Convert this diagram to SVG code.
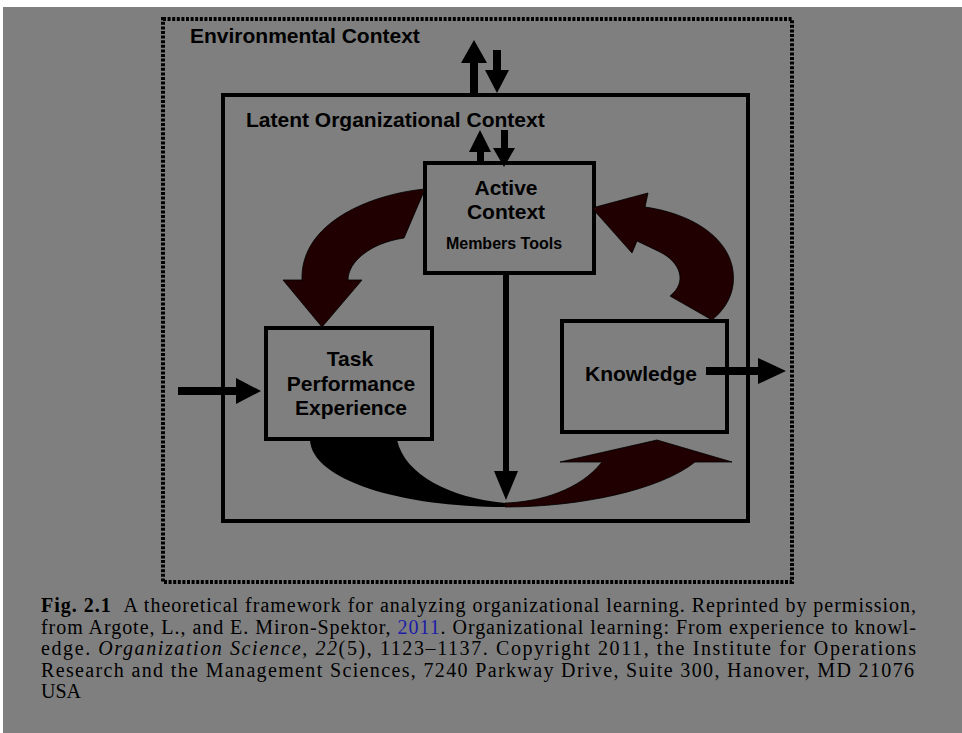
<svg xmlns="http://www.w3.org/2000/svg" width="962" height="733" viewBox="0 0 962 733">
<style>
.lbl{font-family:"Liberation Sans",Arial,sans-serif;font-weight:bold;font-size:21px;fill:#000}
.sm{font-size:16px}
.box{fill:none;stroke:#000;stroke-width:4}
.env{fill:none;stroke:#000;stroke-width:4;stroke-dasharray:3 1.6}
.blk{fill:#000}
.mar{fill:#200000;stroke:#000;stroke-width:0.8}
.cap{font-family:"Liberation Serif","Times New Roman",serif;font-size:20px;fill:#000}
</style>
<rect width="962" height="733" fill="#fff"/>
<rect x="3" y="7" width="959" height="726" fill="#7f7f7f"/>

<g id="environmental-context">
<rect class="env" x="163" y="19" width="629" height="563"/>
<text class="lbl" x="190" y="43">Environmental Context</text>
</g>

<g id="latent-organizational-context">
<rect class="box" x="223" y="95" width="525" height="426"/>
<text class="lbl" x="246" y="127">Latent Organizational Context</text>
</g>

<g id="active-context">
<rect class="box" x="425" y="163" width="169" height="110"/>
<text class="lbl" x="506" y="195" text-anchor="middle">Active</text>
<text class="lbl" x="506" y="219" text-anchor="middle">Context</text>
<text class="lbl sm" x="504" y="249" text-anchor="middle">Members Tools</text>
</g>

<g id="task-performance-experience">
<rect class="box" x="266" y="328" width="166" height="111"/>
<text class="lbl" x="350" y="366" text-anchor="middle">Task</text>
<text class="lbl" x="351" y="391" text-anchor="middle">Performance</text>
<text class="lbl" x="351" y="415" text-anchor="middle">Experience</text>
</g>

<g id="knowledge">
<rect class="box" x="562" y="321" width="165" height="111"/>
<text class="lbl" x="641" y="381" text-anchor="middle">Knowledge</text>
</g>

<g id="connectors">
<polygon class="blk" points="470,95 478,95 478,63 487,63 474,40 461,63 470,63"/>
<polygon class="blk" points="493,50 501,50 501,70 509,70 497,93 485,70 493,70"/>
<polygon class="blk" points="477,163 484,163 484,152 491,152 480,130 469,152 477,152"/>
<polygon class="blk" points="501,130 508,130 508,148 515,148 504,167 493,148 501,148"/>
<polygon class="blk" points="503,273 509,273 509,471 518,471 506,500 494,471 503,471"/>
<polygon class="blk" points="178,387 236,387 236,378 261,391 236,404 236,395 178,395"/>
<polygon class="blk" points="706,367 758,367 758,358 786,371 758,384 758,375 706,375"/>
<path class="mar" d="M425 189 C372 194 300 222 302 280 L283 280 L322 327 L362 280 L348 280 C348 262 370 243 404 238 Z"/>
<path class="mar" d="M592 208 L648 193 L645 207 C700 215 738 245 733 285 C731 300 722 312 712 320 L670 296 C688 282 680 262 660 252 C652 248 645 245 637 241 L632 253 Z"/>
<path class="blk" d="M310 440 C312 480 400 507 505 507 L505 503 C450 498 405 475 397 440 Z"/>
<path class="mar" d="M505 507 C580 507 660 490 695 462 L732 462 L657 440 L560 462 L602 462 C580 490 540 502 505 503 Z"/>
</g>

<g id="caption">
<text class="cap" x="41" y="612" textLength="875" lengthAdjust="spacing"><tspan font-weight="bold">Fig. 2.1</tspan>&#160;&#160;A theoretical framework for analyzing organizational learning. Reprinted by permission,</text>
<text class="cap" x="41" y="634" textLength="875" lengthAdjust="spacing">from Argote, L., and E. Miron-Spektor, <tspan fill="#1c1ca8">2011</tspan>. Organizational learning: From experience to knowl-</text>
<text class="cap" x="41" y="655" textLength="875" lengthAdjust="spacing">edge. <tspan font-style="italic">Organization Science</tspan>, <tspan font-style="italic">22</tspan>(5), 1123–1137. Copyright 2011, the Institute for Operations</text>
<text class="cap" x="41" y="677" textLength="873" lengthAdjust="spacing">Research and the Management Sciences, 7240 Parkway Drive, Suite 300, Hanover, MD 21076</text>
<text class="cap" x="41" y="698">USA</text>
</g>
</svg>
